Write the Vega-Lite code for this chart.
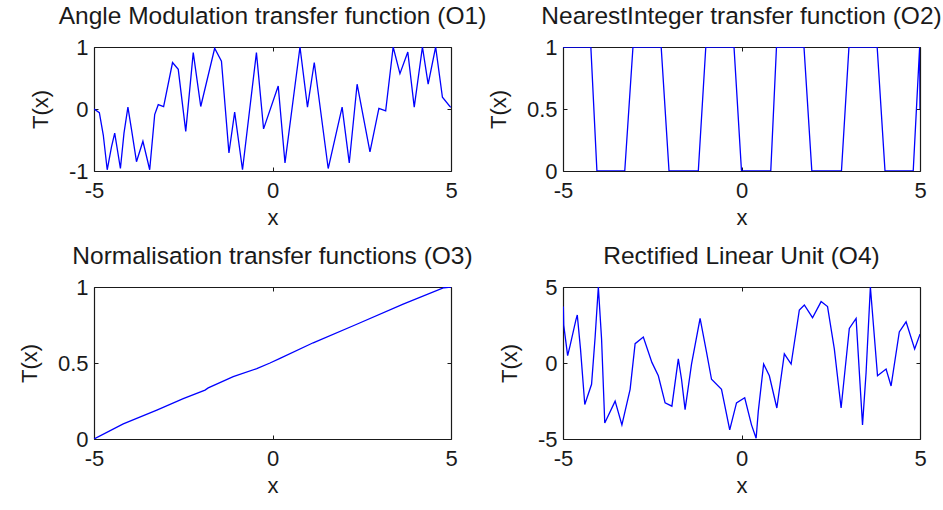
{
  "$schema": "https://vega.github.io/schema/vega-lite/v6.json",
  "background": "white",
  "padding": {"left": 18, "top": 3, "right": 5, "bottom": 5},
  "config": {
    "view": {"stroke": null},
    "font": "Liberation Sans",
    "title": {"font": "Liberation Sans", "fontSize": 24.5, "fontWeight": "normal", "color": "#1a1a1a", "frame": "group", "baseline": "alphabetic", "offset": 7},
    "axis": {
      "grid": false, "zindex": 1,
      "domainColor": "#1a1a1a", "domainWidth": 1.2,
      "tickColor": "#1a1a1a", "tickSize": -4, "tickWidth": 1,
      "labelFont": "Liberation Sans", "labelFontSize": 22, "labelColor": "#1a1a1a",
      "labelFlush": false, "labelOverlap": false, "labelBound": false,
      "titleFont": "Liberation Sans", "titleFontSize": 22, "titleFontWeight": "normal", "titleColor": "#1a1a1a"
    }
  },
  "datasets": {
    "o1": [
      {"x": -5, "y": 0.0}, {"x": -4.85, "y": -0.06}, {"x": -4.74, "y": -0.42}, {"x": -4.63, "y": -0.98},
      {"x": -4.51, "y": -0.61}, {"x": -4.42, "y": -0.39}, {"x": -4.26, "y": -0.96}, {"x": -4.16, "y": -0.39},
      {"x": -4.05, "y": 0.03}, {"x": -3.95, "y": -0.33}, {"x": -3.81, "y": -0.85}, {"x": -3.63, "y": -0.52},
      {"x": -3.44, "y": -0.98}, {"x": -3.3, "y": -0.09}, {"x": -3.2, "y": 0.07}, {"x": -3.05, "y": 0.04},
      {"x": -2.8, "y": 0.75}, {"x": -2.64, "y": 0.64}, {"x": -2.43, "y": -0.36}, {"x": -2.22, "y": 0.91},
      {"x": -2.01, "y": 0.04}, {"x": -1.62, "y": 0.98}, {"x": -1.43, "y": 0.77}, {"x": -1.22, "y": -0.71},
      {"x": -1.06, "y": -0.05}, {"x": -0.84, "y": -0.98}, {"x": -0.45, "y": 0.91}, {"x": -0.25, "y": -0.32},
      {"x": 0.16, "y": 0.37}, {"x": 0.35, "y": -0.87}, {"x": 0.77, "y": 1.0}, {"x": 0.98, "y": 0.03},
      {"x": 1.17, "y": 0.75}, {"x": 1.56, "y": -0.96}, {"x": 1.95, "y": 0.03}, {"x": 2.15, "y": -0.87},
      {"x": 2.37, "y": 0.4}, {"x": 2.73, "y": -0.69}, {"x": 2.98, "y": 0.01}, {"x": 3.17, "y": -0.03},
      {"x": 3.38, "y": 1.0}, {"x": 3.57, "y": 0.57}, {"x": 3.79, "y": 0.92}, {"x": 3.97, "y": 0.03},
      {"x": 4.2, "y": 1.0}, {"x": 4.36, "y": 0.4}, {"x": 4.57, "y": 1.0}, {"x": 4.76, "y": 0.19},
      {"x": 4.97, "y": 0.04}, {"x": 5, "y": 0.03}
    ],
    "o2": [
      {"x": -5, "y": 1}, {"x": -4.22, "y": 1}, {"x": -4.05, "y": 0}, {"x": -3.27, "y": 0}, {"x": -3.04, "y": 1},
      {"x": -2.25, "y": 1}, {"x": -2.03, "y": 0}, {"x": -1.21, "y": 0}, {"x": -1.0, "y": 1},
      {"x": -0.21, "y": 1}, {"x": 0.0, "y": 0}, {"x": 0.82, "y": 0}, {"x": 0.98, "y": 1},
      {"x": 1.75, "y": 1}, {"x": 1.97, "y": 0}, {"x": 2.8, "y": 0}, {"x": 3.01, "y": 1},
      {"x": 3.8, "y": 1}, {"x": 4.02, "y": 0}, {"x": 4.81, "y": 0}, {"x": 4.99, "y": 1}, {"x": 5, "y": 0.5}
    ],
    "o3": [
      {"x": -5, "y": 0}, {"x": -4.18, "y": 0.1}, {"x": -3.24, "y": 0.19}, {"x": -2.5, "y": 0.265},
      {"x": -1.89, "y": 0.322}, {"x": -1.8, "y": 0.336}, {"x": -1.1, "y": 0.41}, {"x": -0.44, "y": 0.463},
      {"x": -0.07, "y": 0.5}, {"x": 0.21, "y": 0.53}, {"x": 1.14, "y": 0.633}, {"x": 2.36, "y": 0.755},
      {"x": 3.66, "y": 0.887}, {"x": 4.8, "y": 0.995}, {"x": 5, "y": 1}
    ],
    "o4": [
      {"x": -5, "y": 2.6}, {"x": -4.99, "y": 3.71}, {"x": -4.98, "y": 2.49}, {"x": -4.87, "y": 0.49},
      {"x": -4.8, "y": 1.16}, {"x": -4.64, "y": 2.82}, {"x": -4.6, "y": 3.16}, {"x": -4.51, "y": 0.93},
      {"x": -4.39, "y": -2.73}, {"x": -4.2, "y": -1.4}, {"x": -4.1, "y": 1.71}, {"x": -4.01, "y": 5.0},
      {"x": -3.92, "y": 1.6}, {"x": -3.83, "y": -3.95}, {"x": -3.54, "y": -2.51}, {"x": -3.35, "y": -4.07},
      {"x": -3.12, "y": -1.73}, {"x": -2.98, "y": 1.27}, {"x": -2.75, "y": 1.71}, {"x": -2.51, "y": 0.04},
      {"x": -2.33, "y": -0.84}, {"x": -2.14, "y": -2.62}, {"x": -1.95, "y": -2.84}, {"x": -1.77, "y": 0.27},
      {"x": -1.68, "y": -1.07}, {"x": -1.58, "y": -3.07}, {"x": -1.4, "y": -0.07}, {"x": -1.16, "y": 2.93},
      {"x": -0.98, "y": 0.71}, {"x": -0.84, "y": -1.07}, {"x": -0.56, "y": -1.73}, {"x": -0.33, "y": -4.4},
      {"x": -0.14, "y": -2.62}, {"x": 0.09, "y": -2.29}, {"x": 0.28, "y": -4.07}, {"x": 0.41, "y": -4.95},
      {"x": 0.47, "y": -3.18}, {"x": 0.62, "y": -0.07}, {"x": 0.78, "y": -0.84}, {"x": 0.99, "y": -2.96},
      {"x": 1.2, "y": 0.6}, {"x": 1.39, "y": -0.07}, {"x": 1.62, "y": 3.49}, {"x": 1.76, "y": 3.82},
      {"x": 1.99, "y": 2.98}, {"x": 2.23, "y": 4.04}, {"x": 2.41, "y": 3.71}, {"x": 2.6, "y": 0.93},
      {"x": 2.79, "y": -2.96}, {"x": 3.02, "y": 2.27}, {"x": 3.21, "y": 2.93}, {"x": 3.39, "y": -4.07},
      {"x": 3.49, "y": -0.62}, {"x": 3.61, "y": 5.0}, {"x": 3.81, "y": -0.84}, {"x": 4.05, "y": -0.4},
      {"x": 4.19, "y": -1.51}, {"x": 4.42, "y": 2.04}, {"x": 4.61, "y": 2.71}, {"x": 4.85, "y": 0.93},
      {"x": 5, "y": 1.9}
    ]
  },
  "columns": 2,
  "spacing": {"row": 116, "column": 112},
  "bounds": "flush",
  "concat": [
    {
      "title": "Angle Modulation transfer function (O1)",
      "width": 357, "height": 124,
      "data": {"name": "o1"},
      "layer": [
        {"mark": {"type": "line", "color": "#0000ff", "strokeWidth": 1.3, "clip": true},
         "encoding": {
           "x": {"field": "x", "type": "quantitative", "scale": {"domain": [-5, 5], "nice": false, "zero": false},
                 "axis": {"orient": "bottom", "values": [-5, 0, 5], "labelExpr": "toString(datum.value)", "title": "x", "labelPadding": 13, "titlePadding": 6}},
           "y": {"field": "y", "type": "quantitative", "scale": {"domain": [-1, 1], "nice": false, "zero": false},
                 "axis": {"orient": "left", "values": [-1, 0, 1], "labelExpr": "toString(datum.value)", "title": "T(x)", "labelPadding": 10, "titlePadding": 16}}
         }},
        {"mark": {"type": "line", "opacity": 0},
         "encoding": {
           "x": {"field": "x", "type": "quantitative", "axis": {"orient": "top", "values": [-5, 0, 5], "labels": false, "title": null}},
           "y": {"field": "y", "type": "quantitative", "axis": {"orient": "right", "values": [-1, 0, 1], "labels": false, "title": null}}
         }}
      ],
      "resolve": {"axis": {"x": "independent", "y": "independent"}}
    },
    {
      "title": "NearestInteger transfer function (O2)",
      "width": 357, "height": 124,
      "data": {"name": "o2"},
      "layer": [
        {"mark": {"type": "line", "color": "#0000ff", "strokeWidth": 1.3, "clip": true},
         "encoding": {
           "x": {"field": "x", "type": "quantitative", "scale": {"domain": [-5, 5], "nice": false, "zero": false},
                 "axis": {"orient": "bottom", "values": [-5, 0, 5], "labelExpr": "toString(datum.value)", "title": "x", "labelPadding": 13, "titlePadding": 6}},
           "y": {"field": "y", "type": "quantitative", "scale": {"domain": [0, 1], "nice": false, "zero": false},
                 "axis": {"orient": "left", "values": [0, 0.5, 1], "labelExpr": "toString(datum.value)", "title": "T(x)", "labelPadding": 10, "titlePadding": 16}}
         }},
        {"mark": {"type": "line", "opacity": 0},
         "encoding": {
           "x": {"field": "x", "type": "quantitative", "axis": {"orient": "top", "values": [-5, 0, 5], "labels": false, "title": null}},
           "y": {"field": "y", "type": "quantitative", "axis": {"orient": "right", "values": [0, 0.5, 1], "labels": false, "title": null}}
         }}
      ],
      "resolve": {"axis": {"x": "independent", "y": "independent"}}
    },
    {
      "title": "Normalisation transfer functions (O3)",
      "width": 357, "height": 152,
      "data": {"name": "o3"},
      "layer": [
        {"mark": {"type": "line", "color": "#0000ff", "strokeWidth": 1.3, "clip": true},
         "encoding": {
           "x": {"field": "x", "type": "quantitative", "scale": {"domain": [-5, 5], "nice": false, "zero": false},
                 "axis": {"orient": "bottom", "values": [-5, 0, 5], "labelExpr": "toString(datum.value)", "title": "x", "labelPadding": 13, "titlePadding": 6}},
           "y": {"field": "y", "type": "quantitative", "scale": {"domain": [0, 1], "nice": false, "zero": false},
                 "axis": {"orient": "left", "values": [0, 0.5, 1], "labelExpr": "toString(datum.value)", "title": "T(x)", "labelPadding": 10, "titlePadding": 16}}
         }},
        {"mark": {"type": "line", "opacity": 0},
         "encoding": {
           "x": {"field": "x", "type": "quantitative", "axis": {"orient": "top", "values": [-5, 0, 5], "labels": false, "title": null}},
           "y": {"field": "y", "type": "quantitative", "axis": {"orient": "right", "values": [0, 0.5, 1], "labels": false, "title": null}}
         }}
      ],
      "resolve": {"axis": {"x": "independent", "y": "independent"}}
    },
    {
      "title": "Rectified Linear Unit (O4)",
      "width": 357, "height": 152,
      "data": {"name": "o4"},
      "layer": [
        {"mark": {"type": "line", "color": "#0000ff", "strokeWidth": 1.3, "clip": true},
         "encoding": {
           "x": {"field": "x", "type": "quantitative", "scale": {"domain": [-5, 5], "nice": false, "zero": false},
                 "axis": {"orient": "bottom", "values": [-5, 0, 5], "labelExpr": "toString(datum.value)", "title": "x", "labelPadding": 13, "titlePadding": 6}},
           "y": {"field": "y", "type": "quantitative", "scale": {"domain": [-5, 5], "nice": false, "zero": false},
                 "axis": {"orient": "left", "values": [-5, 0, 5], "labelExpr": "toString(datum.value)", "title": "T(x)", "labelPadding": 10, "titlePadding": 16}}
         }},
        {"mark": {"type": "line", "opacity": 0},
         "encoding": {
           "x": {"field": "x", "type": "quantitative", "axis": {"orient": "top", "values": [-5, 0, 5], "labels": false, "title": null}},
           "y": {"field": "y", "type": "quantitative", "axis": {"orient": "right", "values": [-5, 0, 5], "labels": false, "title": null}}
         }}
      ],
      "resolve": {"axis": {"x": "independent", "y": "independent"}}
    }
  ]
}
